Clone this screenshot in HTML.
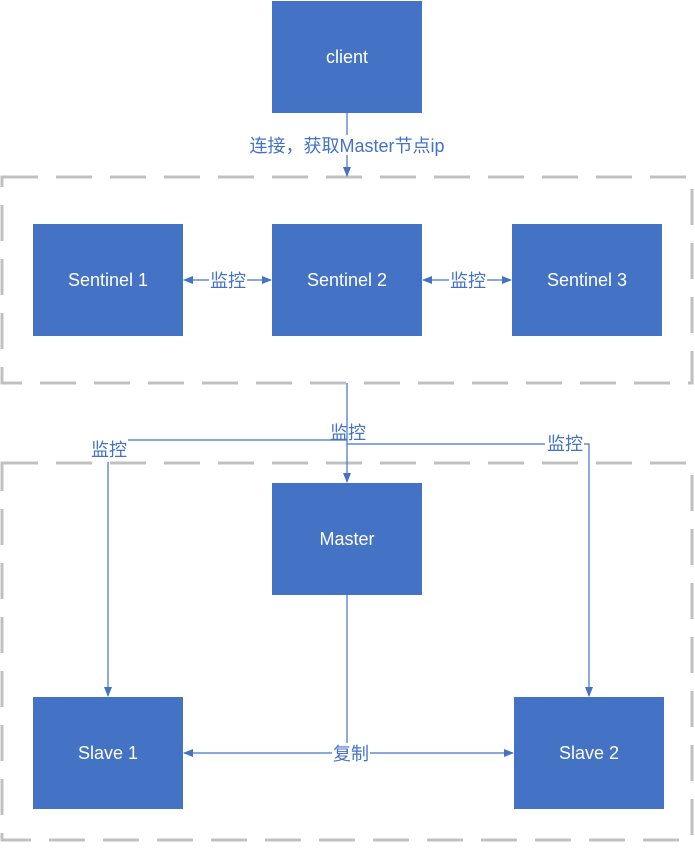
<!DOCTYPE html>
<html><head><meta charset="utf-8"><style>
body{margin:0;background:#fff;}
svg text{font-family:"Liberation Sans","Noto Sans CJK SC",sans-serif;}
</style></head><body>
<svg width="695" height="843" viewBox="0 0 695 843" xmlns="http://www.w3.org/2000/svg">
<defs>
<marker id="a" markerWidth="10" markerHeight="10" refX="9" refY="5" orient="auto" markerUnits="userSpaceOnUse"><path d="M0,1 L10,5 L0,9 Z" fill="#4472c4"/></marker>
<marker id="s" markerWidth="10" markerHeight="10" refX="1" refY="5" orient="auto" markerUnits="userSpaceOnUse"><path d="M10,1 L0,5 L10,9 Z" fill="#4472c4"/></marker>
</defs>
<g fill="none" stroke="#c0c0c0" stroke-width="3" stroke-dasharray="36,18">
<rect x="2" y="177" width="690" height="206"/>
<rect x="2" y="463" width="690" height="377"/>
</g>
<g fill="#4472c4">
<rect x="272" y="1" width="150" height="112"/>
<rect x="33" y="224" width="150" height="112"/>
<rect x="272" y="224" width="150" height="112"/>
<rect x="512" y="224" width="150" height="112"/>
<rect x="272" y="483" width="150" height="112"/>
<rect x="33" y="697" width="150" height="112"/>
<rect x="514" y="697" width="150" height="112"/>
</g>
<g fill="#fff" font-size="18" text-anchor="middle">
<text x="347" y="63">client</text>
<text x="108" y="286">Sentinel 1</text>
<text x="347" y="286">Sentinel 2</text>
<text x="587" y="286">Sentinel 3</text>
<text x="347" y="545">Master</text>
<text x="108" y="759">Slave 1</text>
<text x="589" y="759">Slave 2</text>
</g>
<g stroke="#4472c4" stroke-width="1.2" fill="none">
<line x1="347" y1="113" x2="347" y2="176" marker-end="url(#a)"/>
<line x1="184" y1="280" x2="271" y2="280" marker-start="url(#s)" marker-end="url(#a)"/>
<line x1="423" y1="280" x2="511" y2="280" marker-start="url(#s)" marker-end="url(#a)"/>
<line x1="347" y1="383" x2="347" y2="482" marker-end="url(#a)"/>
<polyline points="347,440 128,440"/>
<line x1="108" y1="462" x2="108" y2="696" marker-end="url(#a)"/>
<polyline points="347,444 545,444"/>
<polyline points="584,444 589,444 589,696" marker-end="url(#a)"/>
<line x1="347" y1="595" x2="347" y2="753"/>
<line x1="184" y1="753" x2="513" y2="753" marker-start="url(#s)" marker-end="url(#a)"/>
</g>
<rect x="248" y="135" width="198" height="20" fill="#fff"/>
<rect x="209" y="270" width="38" height="20" fill="#fff"/>
<rect x="449" y="270" width="38" height="20" fill="#fff"/>
<rect x="332" y="743" width="38" height="20" fill="#fff"/>
<g fill="#4472c4" font-size="18" text-anchor="middle">
<text x="347" y="152">连接，获取Master节点ip</text>
<text x="228" y="287">监控</text>
<text x="468" y="287">监控</text>
<text x="348" y="439">监控</text>
<text x="109" y="456">监控</text>
<text x="565" y="450">监控</text>
<text x="351" y="760">复制</text>
</g>
</svg>
</body></html>
